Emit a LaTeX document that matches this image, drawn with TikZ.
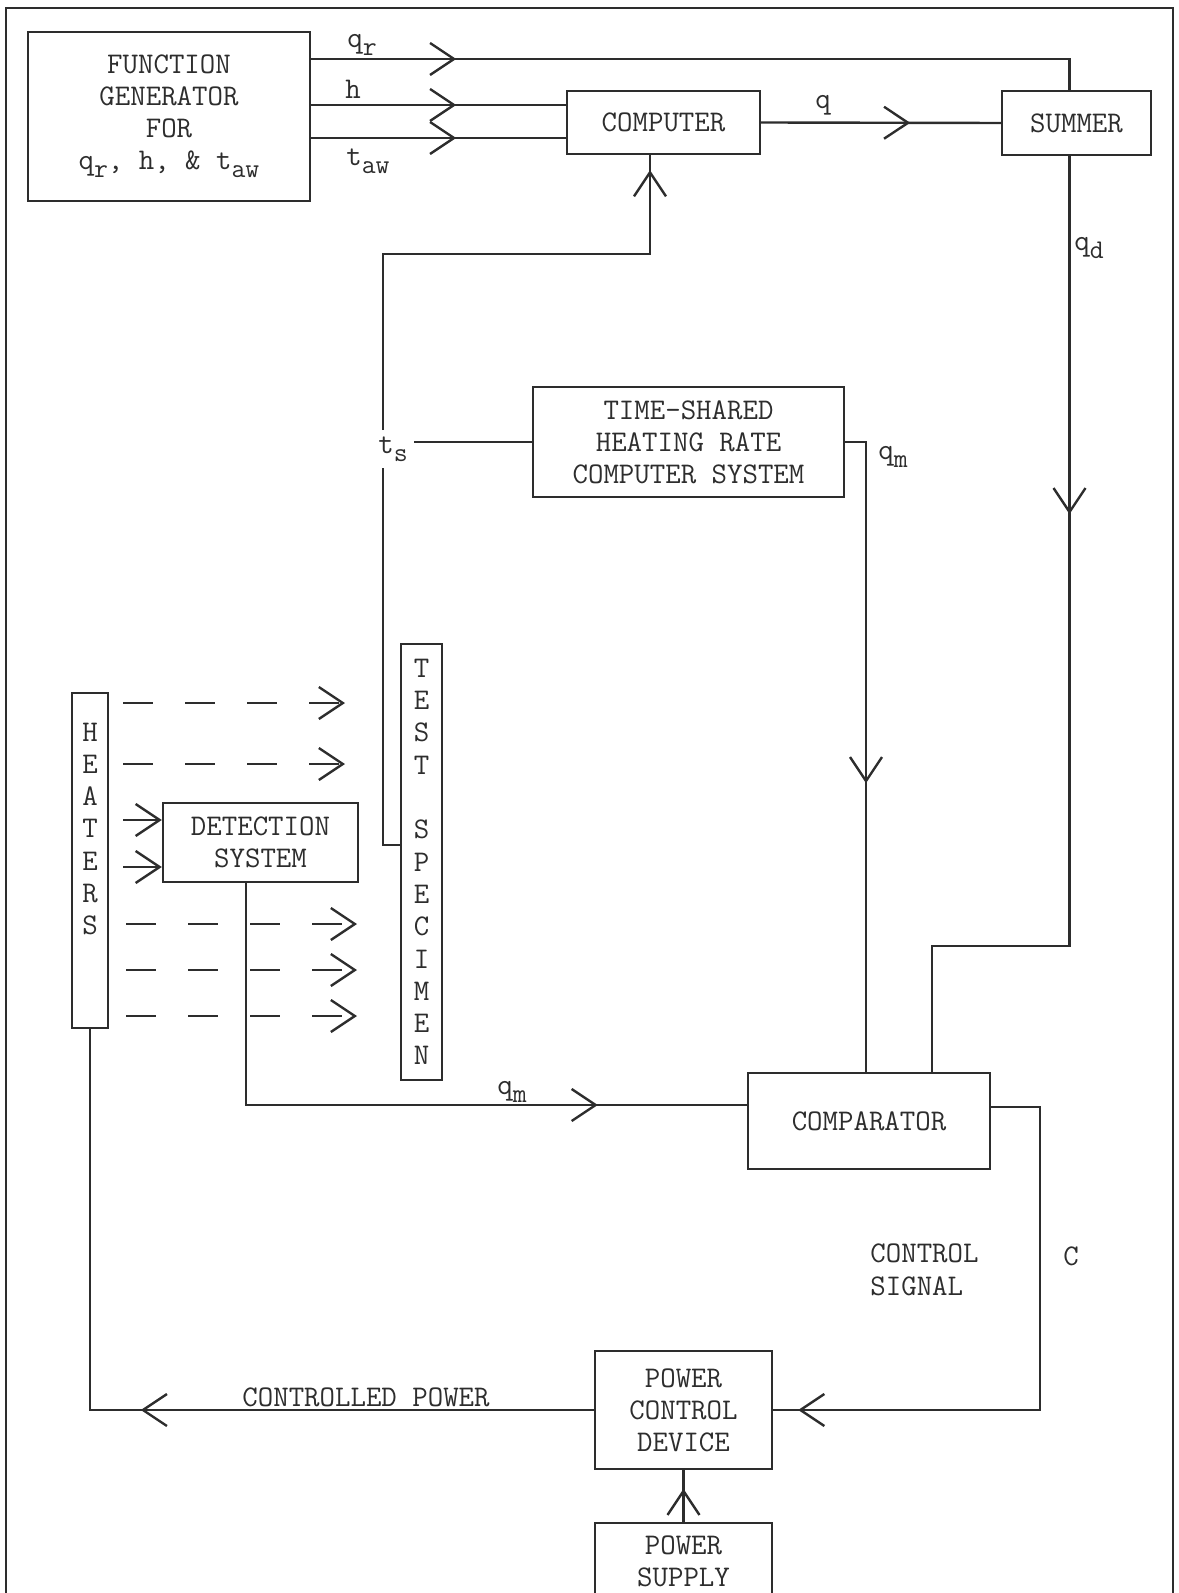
\documentclass[tikz,border=0pt]{standalone}
\usetikzlibrary{arrows.meta,decorations.markings}
\definecolor{ink}{RGB}{45,45,45}
\tikzset{Vh/.tip={Straight Barb[length=12pt,width=16pt]}}
\newcommand\sbx[1]{\raisebox{-4pt}{\fontsize{13.5}{13.5}\selectfont #1}}
\begin{document}
\begin{tikzpicture}[x=0.5pt,y=-0.5pt,
  txt/.style={font=\ttfamily\fontsize{15}{16}\selectfont, text=ink, inner sep=1pt},
  box/.style={txt, draw=ink, line width=1.2pt, align=center, inner sep=0pt},
  wire/.style={draw=ink, line width=1.2pt},
  dwire/.style={wire, dash pattern=on 15pt off 16pt},
  marr/.style={postaction={decorate},decoration={markings,mark=at position #1 with {\arrow{Vh}}}},
]
\useasboundingbox (0,0) rectangle (1178,1593);
\clip (0,0) rectangle (1178,1593);
% frame
\draw[ink, line width=0.9pt] (6,1600) -- (6,8) -- (1173,8) -- (1173,1600);

% boxes
\node[box, minimum width=141pt, minimum height=84.5pt] (fg) at (169,116.5) {FUNCTION\\GENERATOR\\FOR\\q\sbx{r}, h, \& t\sbx{aw}};
\node[box, minimum width=96.5pt, minimum height=31.5pt] (comp) at (663.5,122.5) {COMPUTER};
\node[box, minimum width=74.5pt, minimum height=32pt] (summer) at (1076.5,123) {SUMMER};
\node[box, minimum width=155.5pt, minimum height=55pt] (tshr) at (688.5,442) {TIME-SHARED\\HEATING RATE\\COMPUTER SYSTEM};
\node[box, minimum width=18pt, minimum height=167.5pt] (heaters) at (90,860.5) {};
\node[txt, align=center, font=\ttfamily\fontsize{15}{16.15}\selectfont] (heaterst) at (90,829) {H\\E\\A\\T\\E\\R\\S};
\node[box, minimum width=20.5pt, minimum height=218pt, font=\ttfamily\fontsize{15}{16.15}\selectfont] (spec) at (421.5,862) {T\\E\\S\\T\\\mbox{}\\S\\P\\E\\C\\I\\M\\E\\N};
\node[box, minimum width=97.5pt, minimum height=39.5pt] (det) at (260.5,842.5) {DETECTION\\SYSTEM};
\node[box, minimum width=121pt, minimum height=48pt] (cmp) at (869,1121) {COMPARATOR};
\node[box, minimum width=88.5pt, minimum height=59pt] (pcd) at (683.5,1410) {POWER\\CONTROL\\DEVICE};
\node[box, minimum width=88.5pt, minimum height=53.5pt] (psup) at (683.5,1576.5) {};
\node[txt, align=center] (psupt) at (683.5,1561.5) {POWER\\SUPPLY};

% labels
\node[txt] (lqr) at (362,45) {q\sbx{r}};
\node[txt] (lh) at (353,89) {h};
\node[txt] (ltaw) at (368,161) {t\sbx{aw}};
\node[txt] (lq) at (823,105) {q};
\node[txt, anchor=west] (lqd) at (1072,248) {q\sbx{d}};
\node[txt, inner sep=3pt] (ts) at (393,449) {t\sbx{s}};
\node[txt] (lqm1) at (893,457) {q\sbx{m}};
\node[txt] (lqm2) at (512,1092) {q\sbx{m}};
\node[txt, align=left, anchor=west, font=\ttfamily\fontsize{15}{16.5}\selectfont] (lcs) at (868,1270) {CONTROL\\SIGNAL};
\node[txt] (lc) at (1071,1256) {C};
\node[txt] (lcp) at (366,1397) {CONTROLLED POWER};

% coordinates
\coordinate (qdx) at (932,946);
\coordinate (qmx) at (866,600);
\coordinate (tsx) at (383,600);
\coordinate (cin) at (650,254);
\coordinate (dx) at (246,1105);
\coordinate (cx) at (1040,1107);
\coordinate (di1) at (123,820);
\coordinate (di2) at (123,867);

% wires
\draw[wire, marr=72.5pt] (fg.east |- 0,59) -| ([xshift=-3.5pt]summer.north);
\draw[wire, marr=72.5pt] (fg.east |- 0,105) -- (comp.west |- 0,105);
\draw[wire, marr=72.5pt] (fg.east |- 0,138) -- (comp.west |- 0,138);
\draw[wire, marr=74.5pt] (comp.east) -- (summer.west);
\draw[wire, marr=179pt] ([xshift=-3.5pt]summer.south) |- (qdx) -- (qdx |- cmp.north);
\draw[wire, marr=181pt] (tshr.east) -| (qmx |- cmp.north);
\draw[wire] (spec.west |- 0,845) -| (tsx |- ts.south);
\draw[wire, marr=-7.5pt] (tsx |- ts.north) |- (cin) -- (cin |- comp.south);
\draw[wire] (ts.east |- tshr.west) -- (tshr.west);
\draw[wire, marr=-74.5pt] (det.south -| dx) |- (cmp.west |- dx);
\draw[wire, marr=-12.5pt] (cmp.east |- cx) -- (cx) |- (pcd.east);
\draw[wire, marr=226.5pt] (pcd.west) -| (heaters.south);
\draw[wire, marr=16.5pt] (psup.north) -- (pcd.south);
\draw[wire, -{Vh}] (di1) -- (det.west |- di1);
\draw[wire, -{Vh}] (di2) -- (det.west |- di2);

% radiation (dashed) arrows
\foreach \yy/\xa/\xb in {703/123/345, 764/123/345, 924/126/357, 970/126/357, 1016/126/357}{
  \coordinate (rs\yy) at (\xa,\yy);
  \coordinate (re\yy) at (\xb,\yy);
  \draw[dwire, -{Vh}] (rs\yy) -- (re\yy);
}
\end{tikzpicture}
\end{document}
